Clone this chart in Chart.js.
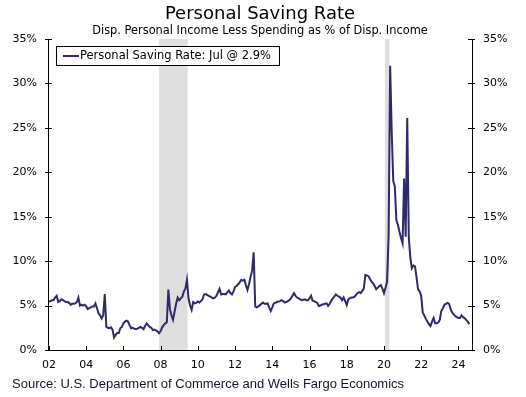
<!DOCTYPE html>
<html>
<head>
<meta charset="utf-8">
<title>Personal Saving Rate</title>
<script src="https://cdn.jsdelivr.net/npm/chart.js@4.4.1/dist/chart.umd.min.js"></script>
<style>
    html, body { margin: 0; padding: 0; background: #fff; }
    #wrap { width: 526px; height: 397px; }
</style>
</head>
<body>
<div id="wrap"><canvas id="chart" width="526" height="397"></canvas></div>
<script>
// monthly personal saving rate (%), first value is Dec 2001, last is Jul 2024
var rate2001 = [5.5];
var rate2002 = [5.5, 5.6, 5.6, 5.9, 6.1, 5.4, 5.5, 5.7, 5.6, 5.5, 5.4, 5.4];
var rate2003 = [5.3, 5.1, 5.2, 5.2, 5.25, 5.4, 5.9, 5.0, 5.1, 5.0, 5.1, 4.9];
var rate2004 = [4.6, 4.7, 4.8, 4.9, 4.9, 5.25, 4.7, 4.1, 3.9, 3.55, 3.9, 6.3];
var rate2005 = [2.6, 2.5, 2.45, 2.55, 2.3, 1.4, 1.7, 1.9, 1.9, 2.45, 2.6, 3.0];
var rate2006 = [3.2, 3.3, 3.2, 2.8, 2.45, 2.5, 2.4, 2.35, 2.4, 2.5, 2.6, 2.5];
var rate2007 = [2.35, 2.7, 3.0, 2.8, 2.6, 2.5, 2.25, 2.3, 2.2, 2.1, 1.9, 2.1];
var rate2008 = [2.55, 2.8, 3.0, 3.1, 6.8, 4.6, 3.9, 3.4, 4.3, 5.2, 5.9, 5.6];
var rate2009 = [5.8, 6.0, 6.6, 6.9, 7.9, 5.8, 5.0, 4.5, 5.4, 5.25, 5.3, 5.45];
var rate2010 = [5.35, 5.5, 5.7, 6.25, 6.3, 6.2, 6.1, 6.0, 5.9, 5.8, 5.9, 6.1];
var rate2011 = [6.5, 6.9, 6.25, 6.3, 6.3, 6.25, 6.5, 6.7, 6.4, 6.25, 6.6, 7.1];
var rate2012 = [7.2, 7.4, 7.6, 7.9, 7.8, 7.9, 7.3, 6.75, 7.4, 8.25, 8.9, 11.0];
var rate2013 = [4.9, 4.8, 4.9, 5.05, 5.2, 5.35, 5.2, 5.2, 5.25, 4.8, 4.4, 4.8];
var rate2014 = [5.25, 5.3, 5.4, 5.45, 5.5, 5.6, 5.5, 5.35, 5.4, 5.5, 5.6, 5.8];
var rate2015 = [6.1, 6.4, 6.1, 5.9, 5.8, 5.7, 5.6, 5.65, 5.7, 5.6, 5.6, 5.8];
var rate2016 = [6.1, 5.55, 5.5, 5.4, 5.3, 4.95, 5.0, 5.1, 5.15, 5.2, 5.25, 4.95];
var rate2017 = [5.2, 5.55, 5.8, 6.0, 6.25, 6.1, 6.0, 5.9, 5.6, 5.9, 5.5, 5.05];
var rate2018 = [5.7, 5.8, 5.9, 5.9, 6.0, 6.2, 6.4, 6.5, 6.4, 6.65, 6.9, 8.45];
var rate2019 = [8.4, 8.3, 8.0, 7.7, 7.5, 7.2, 6.85, 7.0, 7.2, 7.3, 6.9, 6.4];
var rate2020 = [7.0, 7.7, 12.9, 32.0, 24.5, 19.0, 18.4, 14.6, 14.1, 13.3, 12.6, 12.0];
var rate2021 = [19.3, 12.75, 26.1, 12.7, 10.4, 9.2, 9.5, 9.4, 8.2, 6.8, 6.6, 6.1];
var rate2022 = [4.2, 3.9, 3.5, 3.2, 2.9, 2.7, 3.2, 3.6, 3.0, 3.0, 3.1, 3.4];
var rate2023 = [4.4, 4.7, 5.1, 5.2, 5.3, 5.2, 4.6, 4.2, 4.0, 3.8, 3.7, 3.6];
var rate2024 = [3.6, 3.9, 3.7, 3.6, 3.4, 3.2, 2.9];

var xTickYears = [2002, 2004, 2006, 2008, 2010, 2012, 2014, 2016, 2018, 2020, 2022, 2024];
var yTicks = [0, 5, 10, 15, 20, 25, 30, 35];
var recessions = [[2007.92, 2009.45], [2020.05, 2020.29]];

var legendLabel = 'Personal Saving Rate: Jul @ 2.9%';

var allRates = [].concat(rate2001, rate2002, rate2003, rate2004, rate2005, rate2006,
    rate2007, rate2008, rate2009, rate2010, rate2011, rate2012, rate2013, rate2014,
    rate2015, rate2016, rate2017, rate2018, rate2019, rate2020, rate2021, rate2022,
    rate2023, rate2024);

// each month is placed at its end, Dec 2001 sits on Jan 1 2002
var points = allRates.map(function(v, i) {
    return { x: 2002 + i / 12, y: v };
});

var LINE_COLOR = '#2f2a6d';
var VERDANA = '"DejaVu Sans", Verdana, sans-serif';

var shading = {
    id: 'shading',
    beforeDatasetsDraw: function(chart) {
        var ctx = chart.ctx, a = chart.chartArea, xs = chart.scales.x;
        ctx.save();
        ctx.fillStyle = '#dedede';
        recessions.forEach(function(r) {
            var x0 = xs.getPixelForValue(r[0]);
            var x1 = xs.getPixelForValue(r[1]);
            ctx.fillRect(x0, a.top, x1 - x0, a.bottom - a.top);
        });
        ctx.restore();
    }
};

var decorations = {
    id: 'decorations',
    afterDraw: function(chart) {
        var ctx = chart.ctx, a = chart.chartArea;
        var xs = chart.scales.x, ys = chart.scales.y;
        ctx.save();

        // tick marks
        ctx.strokeStyle = '#000';
        ctx.lineWidth = 1;
        ctx.beginPath();
        yTicks.forEach(function(v) {
            var y = Math.round(ys.getPixelForValue(v)) + 0.5;
            ctx.moveTo(a.left - 3, y); ctx.lineTo(a.left + 4, y);
            ctx.moveTo(a.right - 4, y); ctx.lineTo(a.right + 3, y);
        });
        xTickYears.forEach(function(v) {
            var x = Math.round(xs.getPixelForValue(v)) + 0.5;
            ctx.moveTo(x, a.bottom - 4); ctx.lineTo(x, a.bottom);
        });
        ctx.stroke();

        // title and subtitle
        var cx = (a.left + a.right) / 2;
        ctx.fillStyle = '#000';
        ctx.textAlign = 'center';
        ctx.textBaseline = 'alphabetic';
        ctx.font = '18px ' + VERDANA;
        ctx.fillText('Personal Saving Rate', cx, 19);
        ctx.font = '11.4px ' + VERDANA;
        ctx.fillText('Disp. Personal Income Less Spending as % of Disp. Income', cx, 34);

        // legend box
        ctx.fillStyle = '#fff';
        ctx.fillRect(56.5, 46.5, 223, 19);
        ctx.strokeStyle = '#000';
        ctx.strokeRect(56.5, 46.5, 223, 19);
        ctx.strokeStyle = LINE_COLOR;
        ctx.lineWidth = 2;
        ctx.beginPath();
        ctx.moveTo(63, 56); ctx.lineTo(79, 56);
        ctx.stroke();
        ctx.fillStyle = '#000';
        ctx.textAlign = 'left';
        ctx.textBaseline = 'middle';
        ctx.font = '11.5px ' + VERDANA;
        ctx.fillText(legendLabel, 80, 56.5);

        // source
        ctx.fillStyle = '#141432';
        ctx.textBaseline = 'alphabetic';
        ctx.font = '13px "Liberation Sans", Arial, sans-serif';
        ctx.fillText('Source: U.S. Department of Commerce and Wells Fargo Economics', 12, 388);

        ctx.restore();
    }
};

function yAxis(position, width) {
    return {
        type: 'linear',
        position: position,
        min: 0,
        max: 35,
        afterBuildTicks: function(scale) {
            scale.ticks = yTicks.map(function(v) { return { value: v }; });
        },
        afterFit: function(scale) { scale.width = width; },
        grid: { display: false, drawTicks: false },
        border: { display: true, color: '#000', width: 1 },
        ticks: {
            padding: 11,
            color: '#000',
            font: { family: VERDANA, size: 11 },
            callback: function(v) { return v + '%'; }
        }
    };
}

new Chart(document.getElementById('chart'), {
    type: 'line',
    data: {
        datasets: [{
            label: legendLabel,
            data: points,
            borderColor: LINE_COLOR,
            borderWidth: 2,
            pointRadius: 0,
            tension: 0,
            fill: false
        }]
    },
    options: {
        responsive: false,
        animation: false,
        devicePixelRatio: 1,
        layout: { padding: { top: 39, left: 0, right: 0, bottom: 0 } },
        plugins: {
            legend: { display: false },
            title: { display: false },
            tooltip: { enabled: false }
        },
        scales: {
            x: {
                type: 'linear',
                min: 2001.95,
                max: 2024.73,
                afterBuildTicks: function(scale) {
                    scale.ticks = xTickYears.map(function(v) { return { value: v }; });
                },
                afterFit: function(scale) { scale.height = 47; },
                grid: { display: false, drawTicks: false },
                border: { display: true, color: '#000', width: 1 },
                ticks: {
                    padding: 9,
                    color: '#000',
                    maxRotation: 0,
                    autoSkip: false,
                    font: { family: VERDANA, size: 11 },
                    callback: function(v) { return String(v).slice(2); }
                }
            },
            y: yAxis('left', 48),
            y2: yAxis('right', 54)
        }
    },
    plugins: [shading, decorations]
});
</script>
</body>
</html>
